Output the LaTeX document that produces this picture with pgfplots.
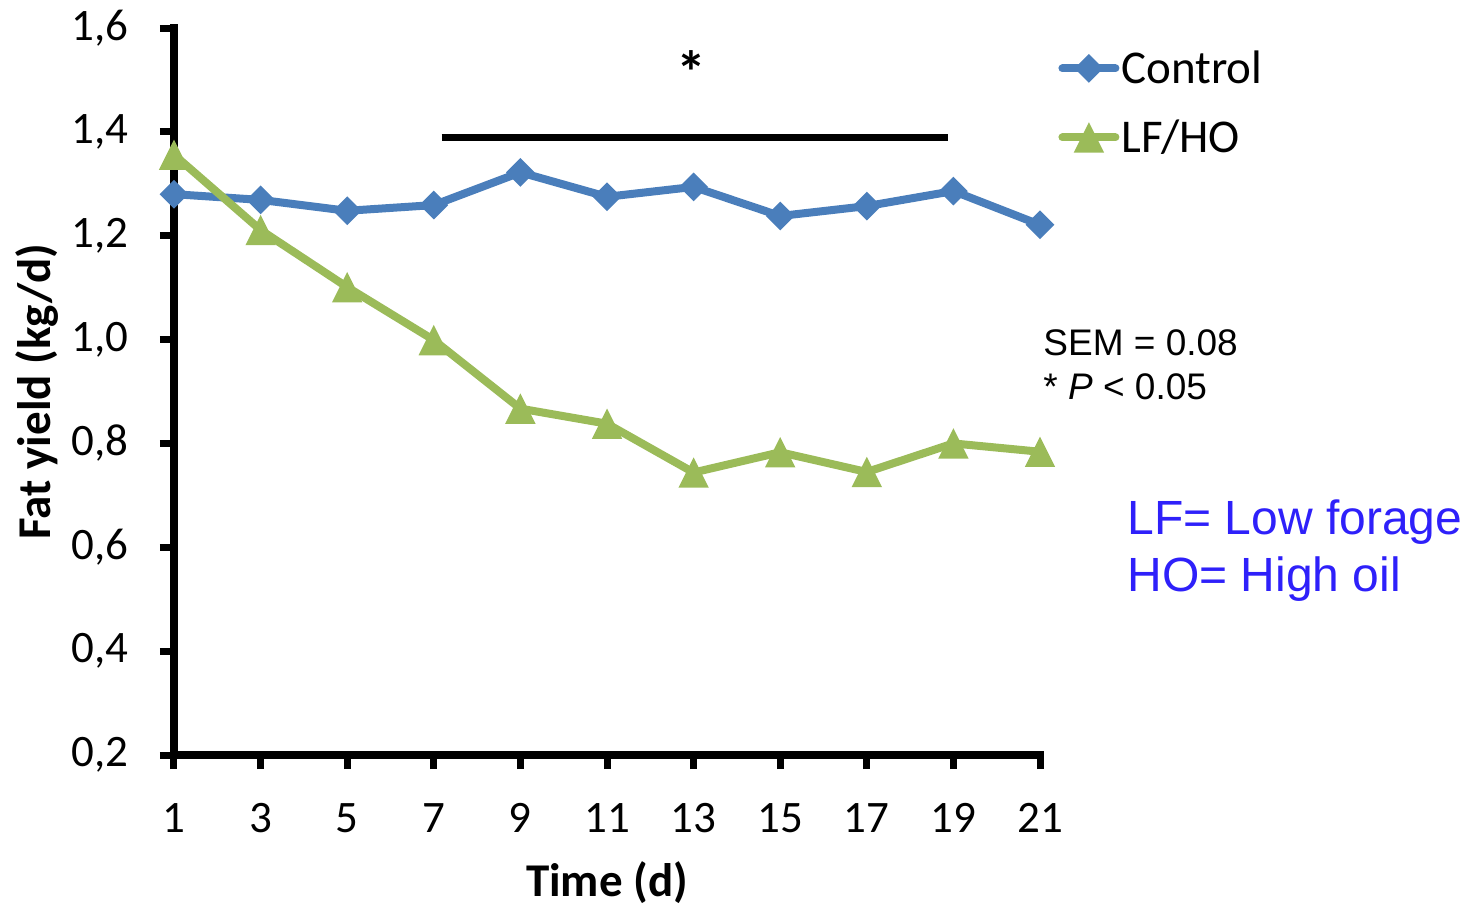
\documentclass[border=0pt]{standalone}
\usepackage{fontspec}
\setmainfont{Carlito}
\newfontfamily\arialfont{Liberation Sans}
\usepackage{pgfplots}
\pgfplotsset{compat=1.18}
\definecolor{ctrl}{RGB}{74,126,187}
\definecolor{lfho}{RGB}{155,187,89}
\definecolor{noteblue}{RGB}{46,32,250}

\pgfdeclareplotmark{xldiamond}{%
 \pgfpathmoveto{\pgfqpoint{0pt}{\pgfplotmarksize}}%
 \pgfpathlineto{\pgfqpoint{\pgfplotmarksize}{0pt}}%
 \pgfpathlineto{\pgfqpoint{0pt}{-\pgfplotmarksize}}%
 \pgfpathlineto{\pgfqpoint{-\pgfplotmarksize}{0pt}}%
 \pgfpathclose\pgfusepathqfill}
\pgfdeclareplotmark{xltriangle}{%
 \pgfpathmoveto{\pgfqpoint{0pt}{\pgfplotmarksize}}%
 \pgfpathlineto{\pgfqpoint{\pgfplotmarksize}{-\pgfplotmarksize}}%
 \pgfpathlineto{\pgfqpoint{-\pgfplotmarksize}{-\pgfplotmarksize}}%
 \pgfpathclose\pgfusepathqfill}

\begin{document}
\begin{tikzpicture}
\useasboundingbox (-87pt,-76pt) rectangle (646.5pt,377.5pt);
\begin{axis}[
 at={(0pt,0pt)}, anchor=south west,
 scale only axis, width=433pt, height=363.5pt,
 xmin=1, xmax=21, ymin=0.2, ymax=1.6,
 axis x line*=bottom, axis y line*=left,
 axis line style={-, line width=4pt, black, line cap=rect},
 xtick={1,3,...,21}, ytick={0.2,0.4,0.6,0.8,1.0,1.2,1.4,1.6},
 tick align=outside, major tick length=7pt,
 tick style={line width=3.5pt, black},
 ticklabel style={font=\fontsize{22.5}{26}\selectfont, inner sep=0pt},
 yticklabel style={xshift=-15.5pt},
 xticklabel style={yshift=-17pt},
 /pgf/number format/assume math mode=true,
 y tick label style={/pgf/number format/.cd, fixed, fixed zerofill, precision=1, use comma},
 xlabel={Time (d)}, ylabel={Fat yield (kg/d)},
 label style={font=\bfseries\fontsize{23.5}{28}\selectfont},
 xlabel style={at={(axis description cs:0.5,-0.176)}, anchor=center},
 ylabel style={at={(axis description cs:-0.158,0.5)}, anchor=center},
 clip=false,
 legend style={draw=none, fill=none, inner sep=0pt,
   at={(axis description cs:1.0208,0.9924)}, anchor=north west,
   font=\fontsize{23.5}{28}\selectfont,
   nodes={inner sep=0pt, text height=24.75pt, text depth=9.75pt},
   row sep=0pt, column sep=1pt},
 legend cell align=left,
 legend image code/.code={\draw[mark repeat=2,mark phase=2,#1] plot coordinates {(0pt,0pt) (13.25pt,0pt) (26.5pt,0pt)};},
]
\addplot[color=ctrl, line width=4pt, line join=round, line cap=round, mark=xldiamond, mark size=7.2pt] coordinates {
 (1,1.280) (3,1.269) (5,1.248) (7,1.259) (9,1.322) (11,1.275) (13,1.294) (15,1.238) (17,1.257) (19,1.286) (21,1.221)};
\addlegendentry{Control}
\addplot[color=lfho, line width=4pt, line join=round, line cap=round, mark=xltriangle, mark size=7.6pt] coordinates {
 (1,1.356) (3,1.211) (5,1.101) (7,0.999) (9,0.867) (11,0.838) (13,0.744) (15,0.783) (17,0.745) (19,0.800) (21,0.784)};
\addlegendentry{LF/HO}
\addplot[black, line width=3.5pt, forget plot] coordinates {(7.18,1.390) (18.88,1.390)};
\node[anchor=base, inner sep=0pt, font=\bfseries\fontsize{30}{34}\selectfont] at (axis cs:12.94,1.474) {*};
\node[anchor=base west, inner sep=0pt, font=\arialfont\fontsize{18.5}{22}\selectfont] at (axis cs:21.07,0.970) {SEM = 0.08};
\node[anchor=base west, inner sep=0pt, font=\arialfont\fontsize{18.5}{22}\selectfont] at (axis cs:21.07,0.884) {* \textit{P} < 0.05};
\node[anchor=base west, inner sep=0pt, text=noteblue, font=\arialfont\fontsize{24}{28}\selectfont] at (axis cs:23.01,0.624) {LF= Low forage};
\node[anchor=base west, inner sep=0pt, text=noteblue, font=\arialfont\fontsize{24}{28}\selectfont] at (axis cs:23.01,0.514) {HO= High oil};
\end{axis}
\end{tikzpicture}
\end{document}
